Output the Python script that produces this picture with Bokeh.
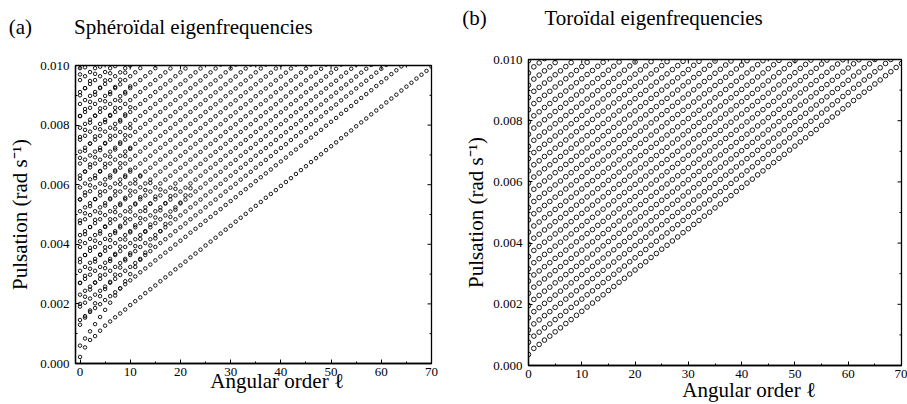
from math import pi

from bokeh.embed import file_html
from bokeh.layouts import row
from bokeh.models import ColumnDataSource, PrintfTickFormatter, Range1d, SingleIntervalTicker, Title
from bokeh.plotting import figure
from bokeh.resources import INLINE

SERIF = "Liberation Serif"
NBSP = "\u00a0"

# Eigenfrequency branches: (first angular order l, pulsations in 1e-5 rad/s at l, l+1, ...)
SPHEROIDAL_BRANCHES = [
    # fundamental
    (0, "22 54 79 92 110 127 141 155 168 181 196 209 222 236 249 262 276 289 302 316 329 342 356 369 382 396 409 422 436 449 462 476 489 502 516 529 542 556 569 582 596 609 622 636 649 662 676 689 702 716 729 742 756 769 782 796 809 822 836 849 862 876 889 902 916 929 942 956 969 982 996"),
    # shear-type overtones
    (0, "146 159 173 186 199 213 226 239 252 266 279 292 306 319 332 346 359 372 385 399 412 425 439 452 465 479 492 505 518 532 545 558 572 585 598 612 625 638 651 665 678 691 705 718 731 745 758 771 784 798 811 824 838 851 864 878 891 904 917 931 944 957 971 984 997"),
    (0, "191 204 218 231 244 258 271 284 297 311 324 337 351 364 377 391 404 417 430 444 457 470 484 497 510 524 537 550 563 577 590 603 617 630 643 657 670 683 696 710 723 736 750 763 776 790 803 816 829 843 856 869 883 896 909 923 936 949 962 976 989 1002"),
    (0, "231 244 258 271 284 298 311 324 337 351 364 377 391 404 417 431 444 457 470 484 497 510 524 537 550 564 577 590 603 617 630 643 657 670 683 697 710 723 736 750 763 776 790 803 816 830 843 856 869 883 896 909 923 936 949 963 976 989 1002"),
    (0, "271 284 298 311 324 338 351 364 377 391 404 417 431 444 457 471 484 497 510 524 537 550 564 577 590 604 617 630 643 657 670 683 697 710 723 737 750 763 776 790 803 816 830 843 856 870 883 896 909 923 936 949 963 976 989 1003"),
    (0, "311 324 338 351 364 378 391 404 417 431 444 457 471 484 497 511 524 537 550 564 577 590 604 617 630 644 657 670 683 697 710 723 737 750 763 777 790 803 816 830 843 856 870 883 896 910 923 936 949 963 976 989 1003"),
    (0, "351 364 378 391 404 418 431 444 457 471 484 497 511 524 537 551 564 577 590 604 617 630 644 657 670 684 697 710 723 737 750 763 777 790 803 817 830 843 856 870 883 896 910 923 936 950 963 976 989 1003"),
    (0, "391 404 418 431 444 458 471 484 497 511 524 537 551 564 577 591 604 617 630 644 657 670 684 697 710 724 737 750 763 777 790 803 817 830 843 857 870 883 896 910 923 936 950 963 976 990 1003"),
    (0, "431 444 458 471 484 498 511 524 537 551 564 577 591 604 617 631 644 657 670 684 697 710 724 737 750 764 777 790 803 817 830 843 857 870 883 897 910 923 936 950 963 976 990 1003"),
    (0, "471 484 498 511 524 538 551 564 577 591 604 617 631 644 657 671 684 697 710 724 737 750 764 777 790 804 817 830 843 857 870 883 897 910 923 937 950 963 976 990 1003"),
    (0, "511 524 538 551 564 578 591 604 617 631 644 657 671 684 697 711 724 737 750 764 777 790 804 817 830 844 857 870 883 897 910 923 937 950 963 977 990 1003"),
    (0, "551 564 578 591 604 618 631 644 657 671 684 697 711 724 737 751 764 777 790 804 817 830 844 857 870 884 897 910 923 937 950 963 977 990 1003"),
    (0, "591 604 618 631 644 658 671 684 697 711 724 737 751 764 777 791 804 817 830 844 857 870 884 897 910 924 937 950 963 977 990 1003"),
    (0, "631 644 658 671 684 698 711 724 737 751 764 777 791 804 817 831 844 857 870 884 897 910 924 937 950 964 977 990 1003"),
    (0, "671 684 698 711 724 738 751 764 777 791 804 817 831 844 857 871 884 897 910 924 937 950 964 977 990"),
    (0, "711 724 738 751 764 778 791 804 817 831 844 857 871 884 897 911 924 937 950 964 977 990"),
    (0, "751 764 778 791 804 818 831 844 857 871 884 897 911 924 937 951 964 977 990"),
    (0, "791 804 818 831 844 858 871 884 897 911 924 937 951 964 977 991"),
    (0, "831 844 858 871 884 898 911 924 937 951 964 977 991"),
    (0, "871 884 898 911 924 938 951 964 977 991"),
    (0, "911 924 938 951 964 978 991"),
    (0, "951 964 978 991"),
    (0, "991"),
    # steeper low-order branches
    (0, "60 84 108 132 156 180 204 228 252 276 300 324 348 372 396 420 444 468 492 516 540 564 588"),
    (0, "130 154 178 202 226 250 274 298 322 346 370 394 418 442 466 490 514 538 562 586"),
    (0, "200 224 248 272 296 320 344 368 392 416 440 464 488 512 536 560 584"),
    (0, "270 294 318 342 366 390 414 438 462 486 510 534 558 582 606"),
    (0, "340 364 388 412 436 460 484 508 532 556 580 604 628"),
    (0, "410 434 458 482 506 530 554 578 602 626 650"),
    (0, "480 504 528 552 576 600 624 648 672 696 720"),
    (0, "550 574 598 622 646 670 694 718 742 766 790"),
    (0, "620 644 668 692 716 740 764 788 812 836 860"),
    (0, "690 714 738 762 786 810 834 858 882 906 930"),
    (0, "760 784 808 832 856 880 904 928 952 976 1000"),
    (0, "830 854 878 902 926 950 974 998"),
    (0, "900 924 948 972 996"),
    (0, "970 994"),
]

TOROIDAL_BRANCHES = [
    (0, "36 56 69 83 96 110 123 137 150 164 177 191 204 218 231 245 258 272 285 299 312 326 339 353 366 380 393 407 420 434 447 461 474 488 501 515 528 542 555 569 582 596 609 623 636 650 663 677 690 704 717 731 744 758 771 785 798 812 825 839 852 866 879 893 906 920 933 947 960 974 987"),
    (0, "76 96 109 123 136 150 163 177 190 204 217 231 244 258 271 285 298 312 325 339 352 366 379 393 406 420 433 447 460 474 487 501 514 528 541 555 568 582 595 609 622 636 649 663 676 690 703 717 730 744 757 771 784 798 811 825 838 852 865 879 892 906 919 933 946 960 973 987 1000"),
    (0, "116 136 149 163 176 190 203 217 230 244 257 271 284 298 311 325 338 352 365 379 392 406 419 433 446 460 473 487 500 514 527 541 554 568 581 595 608 622 635 649 662 676 689 703 716 730 743 757 770 784 797 811 824 838 851 865 878 892 905 919 932 946 959 973 986 1000"),
    (0, "156 176 189 203 216 230 243 257 270 284 297 311 324 338 351 365 378 392 405 419 432 446 459 473 486 500 513 527 540 554 567 581 594 608 621 635 648 662 675 689 702 716 729 743 756 770 783 797 810 824 837 851 864 878 891 905 918 932 945 959 972 986 999"),
    (0, "196 216 229 243 256 270 283 297 310 324 337 351 364 378 391 405 418 432 445 459 472 486 499 513 526 540 553 567 580 594 607 621 634 648 661 675 688 702 715 729 742 756 769 783 796 810 823 837 850 864 877 891 904 918 931 945 958 972 985 999"),
    (0, "236 256 269 283 296 310 323 337 350 364 377 391 404 418 431 445 458 472 485 499 512 526 539 553 566 580 593 607 620 634 647 661 674 688 701 715 728 742 755 769 782 796 809 823 836 850 863 877 890 904 917 931 944 958 971 985 998"),
    (0, "276 296 309 323 336 350 363 377 390 404 417 431 444 458 471 485 498 512 525 539 552 566 579 593 606 620 633 647 660 674 687 701 714 728 741 755 768 782 795 809 822 836 849 863 876 890 903 917 930 944 957 971 984 998"),
    (0, "316 336 349 363 376 390 403 417 430 444 457 471 484 498 511 525 538 552 565 579 592 606 619 633 646 660 673 687 700 714 727 741 754 768 781 795 808 822 835 849 862 876 889 903 916 930 943 957 970 984 997"),
    (0, "356 376 389 403 416 430 443 457 470 484 497 511 524 538 551 565 578 592 605 619 632 646 659 673 686 700 713 727 740 754 767 781 794 808 821 835 848 862 875 889 902 916 929 943 956 970 983 997"),
    (0, "396 416 429 443 456 470 483 497 510 524 537 551 564 578 591 605 618 632 645 659 672 686 699 713 726 740 753 767 780 794 807 821 834 848 861 875 888 902 915 929 942 956 969 983 996"),
    (0, "436 456 469 483 496 510 523 537 550 564 577 591 604 618 631 645 658 672 685 699 712 726 739 753 766 780 793 807 820 834 847 861 874 888 901 915 928 942 955 969 982 996"),
    (0, "476 496 509 523 536 550 563 577 590 604 617 631 644 658 671 685 698 712 725 739 752 766 779 793 806 820 833 847 860 874 887 901 914 928 941 955 968 982 995"),
    (0, "516 536 549 563 576 590 603 617 630 644 657 671 684 698 711 725 738 752 765 779 792 806 819 833 846 860 873 887 900 914 927 941 954 968 981 995"),
    (0, "556 576 589 603 616 630 643 657 670 684 697 711 724 738 751 765 778 792 805 819 832 846 859 873 886 900 913 927 940 954 967 981 994"),
    (0, "596 616 629 643 656 670 683 697 710 724 737 751 764 778 791 805 818 832 845 859 872 886 899 913 926 940 953 967 980 994"),
    (0, "636 656 669 683 696 710 723 737 750 764 777 791 804 818 831 845 858 872 885 899 912 926 939 953 966 980 993"),
    (0, "676 696 709 723 736 750 763 777 790 804 817 831 844 858 871 885 898 912 925 939 952 966 979 993"),
    (0, "716 736 749 763 776 790 803 817 830 844 857 871 884 898 911 925 938 952 965 979 992"),
    (0, "756 776 789 803 816 830 843 857 870 884 897 911 924 938 951 965 978 992"),
    (0, "796 816 829 843 856 870 883 897 910 924 937 951 964 978 991"),
    (0, "836 856 869 883 896 910 923 937 950 964 977 991"),
    (0, "876 896 909 923 936 950 963 977 990"),
    (0, "916 936 949 963 976 990"),
    (0, "956 976 989 1003"),
    (0, "996"),
]

X_MAJOR = [0, 10, 20, 30, 40, 50, 60, 70]
X_MINOR = [5, 15, 25, 35, 45, 55, 65]
Y_MAJOR = [0.0, 0.002, 0.004, 0.006, 0.008, 0.010]
Y_MINOR = [0.001, 0.003, 0.005, 0.007, 0.009]
Y_LABEL = "Pulsation (rad s\u207b\u00b9)"
X_LABEL = "Angular order \u2113"


def branch_points(branches):
    ls, ws = [], []
    for l_first, text in branches:
        for i, v in enumerate(text.split()):
            ls.append(l_first + i)
            ws.append(int(v) * 1e-5)
    return ColumnDataSource(data=dict(l=ls, w=ws))


def style_axis(axis, interval):
    axis.ticker = SingleIntervalTicker(interval=interval, num_minor_ticks=2)
    axis.axis_line_color = "black"
    axis.axis_line_width = 1.3
    axis.major_tick_in = 4
    axis.major_tick_out = 0
    axis.minor_tick_in = 2
    axis.minor_tick_out = 0
    axis.major_tick_line_color = "black"
    axis.minor_tick_line_color = "black"
    axis.major_label_text_font = SERIF
    axis.major_label_text_font_size = "13px"
    axis.major_label_text_color = "black"
    axis.major_label_standoff = 4
    axis.axis_label_text_font = SERIF
    axis.axis_label_text_font_size = "21px"
    axis.axis_label_text_font_style = "normal"
    axis.axis_label_text_color = "black"


def make_panel(width, borders, x_start, source, marker_size, marker_width,
               title, title_offset, title_gap, title_standoff,
               x_label_pad, x_label_standoff, y_label_standoff):
    left, right, top, bottom = borders
    p = figure(width=width, height=404, x_range=Range1d(x_start, 70),
               y_range=Range1d(0, 0.010), output_backend="svg", toolbar_location=None,
               min_border_left=left, min_border_right=right,
               min_border_top=top, min_border_bottom=bottom)
    p.frame_align = False
    p.grid.visible = False
    p.outline_line_color = "black"
    p.outline_line_width = 1.3
    p.background_fill_color = "white"
    p.border_fill_color = "white"

    xa, ya = p.xaxis[0], p.yaxis[0]
    style_axis(xa, 10)
    style_axis(ya, 0.002)
    ya.formatter = PrintfTickFormatter(format="%.3f")
    ya.major_label_standoff = 6
    xa.axis_label = NBSP * x_label_pad + X_LABEL
    xa.axis_label_standoff = x_label_standoff
    ya.axis_label = Y_LABEL
    ya.axis_label_standoff = y_label_standoff

    # inward ticks mirrored on the top and right edges of the frame
    p.ray(x=X_MAJOR, y=[0.010] * len(X_MAJOR), length=4, length_units="screen",
          angle=-pi / 2, line_color="black", line_width=1)
    p.ray(x=X_MINOR, y=[0.010] * len(X_MINOR), length=2, length_units="screen",
          angle=-pi / 2, line_color="black", line_width=1)
    p.ray(x=[70] * len(Y_MAJOR), y=Y_MAJOR, length=4, length_units="screen",
          angle=pi, line_color="black", line_width=1)
    p.ray(x=[70] * len(Y_MINOR), y=Y_MINOR, length=2, length_units="screen",
          angle=pi, line_color="black", line_width=1)

    p.scatter("l", "w", source=source, marker="circle", size=marker_size,
              fill_color=None, line_color="black", line_width=marker_width)

    # blank band between the frame and the panel title
    p.add_layout(Title(text=NBSP, text_font=SERIF, text_font_size="10px",
                       standoff=title_gap), "above")
    p.add_layout(Title(text=title, align="left", offset=title_offset,
                       standoff=title_standoff, text_font=SERIF,
                       text_font_size="21px", text_font_style="normal",
                       text_color="black"), "above")
    return p


# (a) spheroidal modes
pa = make_panel(460, (75, 29, 65, 41), -0.9, branch_points(SPHEROIDAL_BRANCHES), 3.5, 0.9,
                "(a)" + NBSP * 8 + "Sph\u00e9ro\u00efdal eigenfrequencies", -66.7, 14, 0,
                9, -10, 5)

# (b) toroidal modes
pb = make_panel(447, (68, 6, 59, 37), 0, branch_points(TOROIDAL_BRANCHES), 4.6, 0.9,
                "(b)" + NBSP * 11 + "Toro\u00efdal eigenfrequencies", -66.3, 19, -4,
                13, -3, 2)

layout = row(pa, pb)
open("out.html", "w").write(file_html(layout, INLINE))
